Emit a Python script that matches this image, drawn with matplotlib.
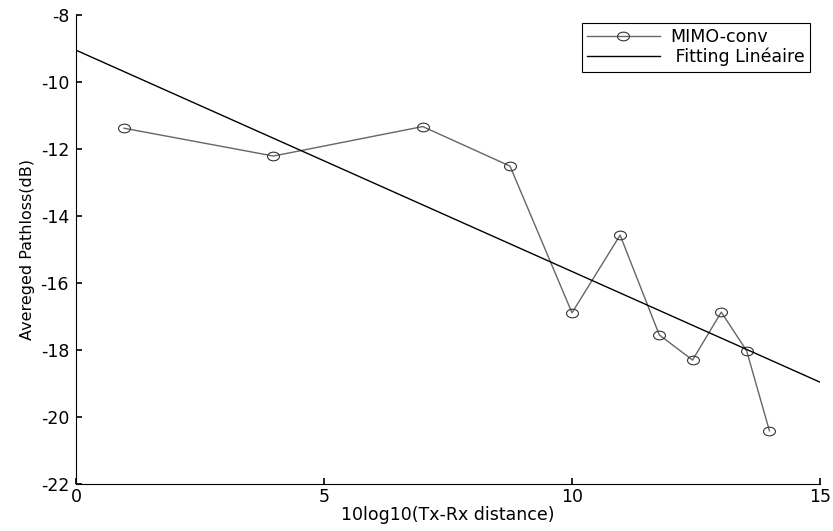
import matplotlib
matplotlib.use("Agg")
import matplotlib.pyplot as plt
from matplotlib.path import Path
from matplotlib.transforms import Affine2D

# values
distance_db = [0.97, 3.98, 6.99, 8.75, 10.0, 10.97, 11.76, 12.43, 13.01, 13.52, 13.98]
pathloss_db = [-11.38, -12.21, -11.33, -12.51, -16.89, -14.57, -17.55, -18.30, -16.87, -18.02, -20.41]

# linear fit, endpoints read at x=0 and x=15
fit_x = [0, 15]
fit_y = [-9.05, -18.96]

plt.rcParams['font.family'] = ['DejaVu Sans']
plt.rcParams['axes.unicode_minus'] = False

# the reference is stretched sideways, so the circles come out as ellipses
ellipse = Affine2D().scale(1.38, 1.0).transform_path(Path.unit_circle())

fig = plt.figure(figsize=(8.33, 5.31), dpi=100)
ax = fig.add_axes([76 / 833, 1 - 484 / 531, (820 - 76) / 833, (484 - 15) / 531])

ax.plot(distance_db, pathloss_db, color='#666666', linewidth=1.0, marker=ellipse,
        markersize=8.6, markerfacecolor='none', markeredgecolor='#333333',
        markeredgewidth=0.8, label='MIMO-conv')
ax.plot(fit_x, fit_y, color='black', linewidth=1.0, label=' Fitting Linéaire')

ax.set_xlim(0, 15)
ax.set_ylim(-22, -8)
ax.set_xticks([0, 5, 10, 15])
ax.set_yticks(range(-22, -7, 2))

ax.spines['top'].set_visible(False)
ax.spines['right'].set_visible(False)
ax.tick_params(direction='in', length=4, width=1.2, labelsize=12.5)
ax.tick_params(axis='x', pad=3)
ax.tick_params(axis='y', pad=5)

ax.set_xlabel('10log10(Tx-Rx distance)', fontsize=12.5, labelpad=0)
ax.set_ylabel('Avereged Pathloss(dB)', fontsize=11.5, labelpad=4)

leg = ax.legend(loc='upper right', bbox_to_anchor=(810 / 833, 1 - 23 / 531),
                bbox_transform=fig.transFigure, borderaxespad=0, fontsize=12.5,
                handlelength=4.2, fancybox=False, framealpha=1,
                borderpad=0.3, labelspacing=0.1, handletextpad=0.6)
leg.get_frame().set_edgecolor('black')
leg.get_frame().set_linewidth(0.8)

fig.savefig('out.png', dpi=100)
